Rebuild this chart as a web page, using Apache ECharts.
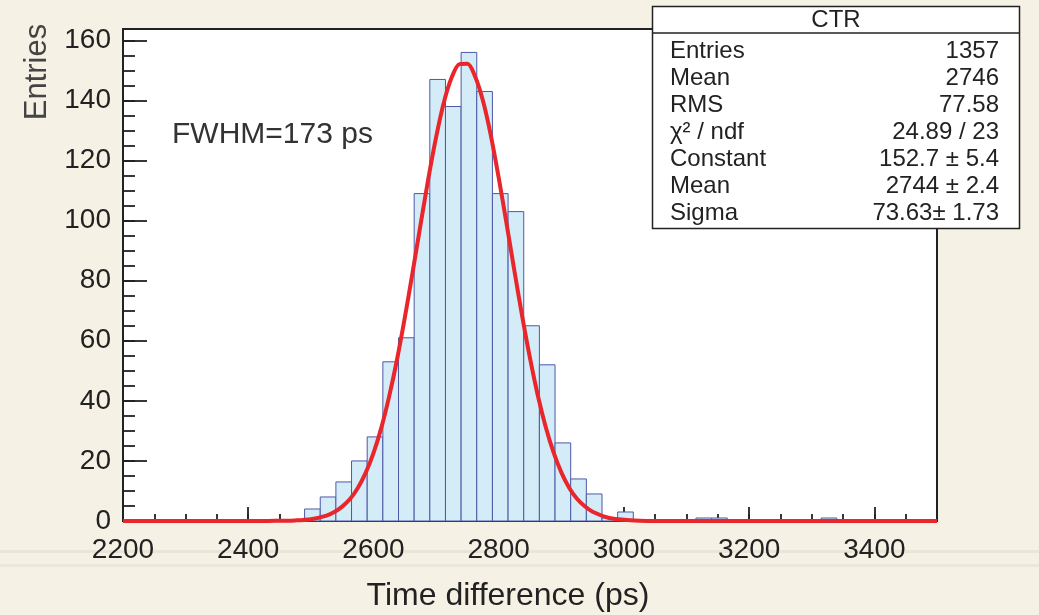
<!DOCTYPE html>
<html>
<head>
<meta charset="utf-8">
<script src="https://cdn.jsdelivr.net/npm/echarts@6/dist/echarts.min.js"></script>
<style>
html,body{margin:0;padding:0;background:#f6f1e5;}
#c{width:1039px;height:615px;}
</style>
</head>
<body>
<div id="c"></div>
<script>
// ---- data ----
const binLowEdges = [2490,2515,2540,2565,2590,2615,2640,2665,2690,2715,2740,2765,2790,2815,2840,2865,2890,2915,2940,2965,2990,3115,3140,3315];
const binCounts   = [4,8,13,20,28,53,61,109,147,138,156,143,109,103,65,52,26,14,9,1,3,1,1,1];
const binWidth = 25;

const fitX = [2200,2300,2400,2425,2450,2475,2500,2525,2537.5,2550,2562.5,2575,2587.5,2600,2612.5,2625,2637.5,2650,2662.5,2675,2687.5,2700,2712.5,2725,2737.5,2750,2762.5,2775,2787.5,2800,2812.5,2825,2837.5,2850,2862.5,2875,2887.5,2900,2912.5,2925,2937.5,2950,2975,3000,3025,3050,3100,3300,3500];
const fitY = [0,0,0,0,0.1,0.2,0.6,1.8,3.0,4.8,7.3,11.0,16.0,22.6,31.0,41.4,53.6,67.6,82.8,98.4,113.8,127.7,139.4,147.7,152.1,152.2,147.9,139.8,128.3,114.3,99.1,83.4,68.2,54.2,41.8,31.4,22.9,16.2,11.1,7.4,4.9,3.1,1.1,0.4,0.1,0,0,0,0];

const xTickLabels = [2200,2400,2600,2800,3000,3200,3400];
const yTickLabels = [0,20,40,60,80,100,120,140,160];

const statsTitle = 'CTR';
const statsNames  = ['Entries','Mean','RMS','χ² / ndf','Constant','Mean','Sigma'];
const statsValues = ['1357','2746','77.58','24.89 / 23','152.7 ± 5.4','2744 ± 2.4','73.63± 1.73'];
const annotation = 'FWHM=173 ps';
const xTitle = 'Time difference (ps)';
const yTitle = 'Entries';

// ---- chart ----
const FONT = '"Liberation Sans", Arial, Helvetica, sans-serif';
const INK = '#222';
const chart = echarts.init(document.getElementById('c'), null, {renderer:'canvas'});

const histData = binLowEdges.map((lo, i) => [lo, lo + binWidth, binCounts[i]]);
const fitData = fitX.map((x, i) => [x, fitY[i]]);

const xMin = xTickLabels[0], xMax = 3500;
const yMin = 0, yMax = 163.8;

const statsGraphics = [];
const boxL = 652.5, boxR = 1019.5, boxT = 6.5, boxB = 228.5;
statsGraphics.push({type:'rect', shape:{x:boxL, y:boxT, width:boxR-boxL, height:boxB-boxT}, style:{fill:'#fff', stroke:INK, lineWidth:1.5}, z:100});
statsGraphics.push({type:'line', shape:{x1:boxL, y1:33, x2:boxR, y2:33}, style:{stroke:INK, lineWidth:1.5}, z:101});
statsGraphics.push({type:'text', x:(boxL+boxR)/2, y:20, style:{text:statsTitle, fontSize:24, fontFamily:FONT, fill:INK, align:'center', verticalAlign:'middle'}, z:101});
statsNames.forEach((n, i) => {
  const y = 51 + i * 27;
  statsGraphics.push({type:'text', x:670, y:y, style:{text:n, fontSize:24, fontFamily:FONT, fill:INK, align:'left', verticalAlign:'middle'}, z:101});
  statsGraphics.push({type:'text', x:999, y:y, style:{text:statsValues[i], fontSize:24, fontFamily:FONT, fill:INK, align:'right', verticalAlign:'middle'}, z:101});
});

const option = {
  backgroundColor: '#f6f1e5',
  animation: false,
  grid: {left:123, right:102, top:29, bottom:94, show:true, backgroundColor:'#ffffff', borderColor:INK, borderWidth:2},
  xAxis: [
    {type:'value', min:xMin, max:xMax, interval:200, position:'bottom',
     axisLine:{show:true, onZero:false, lineStyle:{color:INK, width:2}},
     axisTick:{show:true, inside:true, length:14, lineStyle:{color:INK, width:1.8}},
     axisLabel:{show:true, showMaxLabel:false, color:INK, fontSize:28, fontFamily:FONT, margin:15,
       formatter: v => (xTickLabels.indexOf(v) >= 0 ? String(v) : '')},
     splitLine:{show:false}},
    {type:'value', min:xMin, max:xMax, interval:50, position:'bottom',
     axisLine:{show:false, onZero:false},
     axisTick:{show:true, inside:true, length:7, lineStyle:{color:INK, width:1.8}},
     axisLabel:{show:false}, splitLine:{show:false}}
  ],
  yAxis: [
    {type:'value', min:yMin, max:yMax, interval:20, position:'left',
     axisLine:{show:true, onZero:false, lineStyle:{color:INK, width:2}},
     axisTick:{show:true, inside:true, length:24, lineStyle:{color:INK, width:1.8}},
     axisLabel:{show:true, showMaxLabel:false, color:INK, fontSize:28, fontFamily:FONT, margin:12,
       formatter: v => (yTickLabels.indexOf(v) >= 0 ? String(v) : '')},
     splitLine:{show:false}},
    {type:'value', min:yMin, max:yMax, interval:5, position:'left',
     axisLine:{show:false, onZero:false},
     axisTick:{show:true, inside:true, length:12, lineStyle:{color:INK, width:1.8}},
     axisLabel:{show:false}, splitLine:{show:false}}
  ],
  series: [
    {
      type:'custom', xAxisIndex:0, yAxisIndex:0, z:2,
      data: histData,
      encode: {x:[0,1], y:2},
      renderItem: function (params, api) {
        const p0 = api.coord([api.value(0), api.value(2)]);
        const p1 = api.coord([api.value(1), 0]);
        return {
          type:'rect',
          shape:{x:p0[0], y:p0[1], width:p1[0]-p0[0], height:p1[1]-p0[1]},
          style:{fill:'#d3ecf8', stroke:'#4e58a6', lineWidth:1}
        };
      }
    },
    {
      type:'line', xAxisIndex:0, yAxisIndex:0, z:3,
      data: fitData, showSymbol:false, symbol:'none',
      smooth:0.3,
      lineStyle:{color:'#e8262b', width:4},
      clip:true
    }
  ],
  graphic: [
    {type:'rect', shape:{x:0, y:550, width:1039, height:3}, style:{fill:'#e9e5d9'}, z:-10, silent:true},
    {type:'rect', shape:{x:0, y:564, width:1039, height:3}, style:{fill:'#ebe7dc'}, z:-10, silent:true},
    {type:'text', x:172, y:135, style:{text:annotation, fontSize:30, fontFamily:FONT, fill:'#333', align:'left', verticalAlign:'middle'}, z:50},
    {type:'text', x:508, y:596, style:{text:xTitle, fontSize:32, fontFamily:FONT, fill:INK, align:'center', verticalAlign:'middle'}, z:50},
    {type:'text', x:37, y:72, rotation:Math.PI/2, style:{text:yTitle, fontSize:31, fontFamily:FONT, fill:'#444', align:'center', verticalAlign:'middle'}, z:50}
  ].concat(statsGraphics)
};
chart.setOption(option);
</script>
</body>
</html>
